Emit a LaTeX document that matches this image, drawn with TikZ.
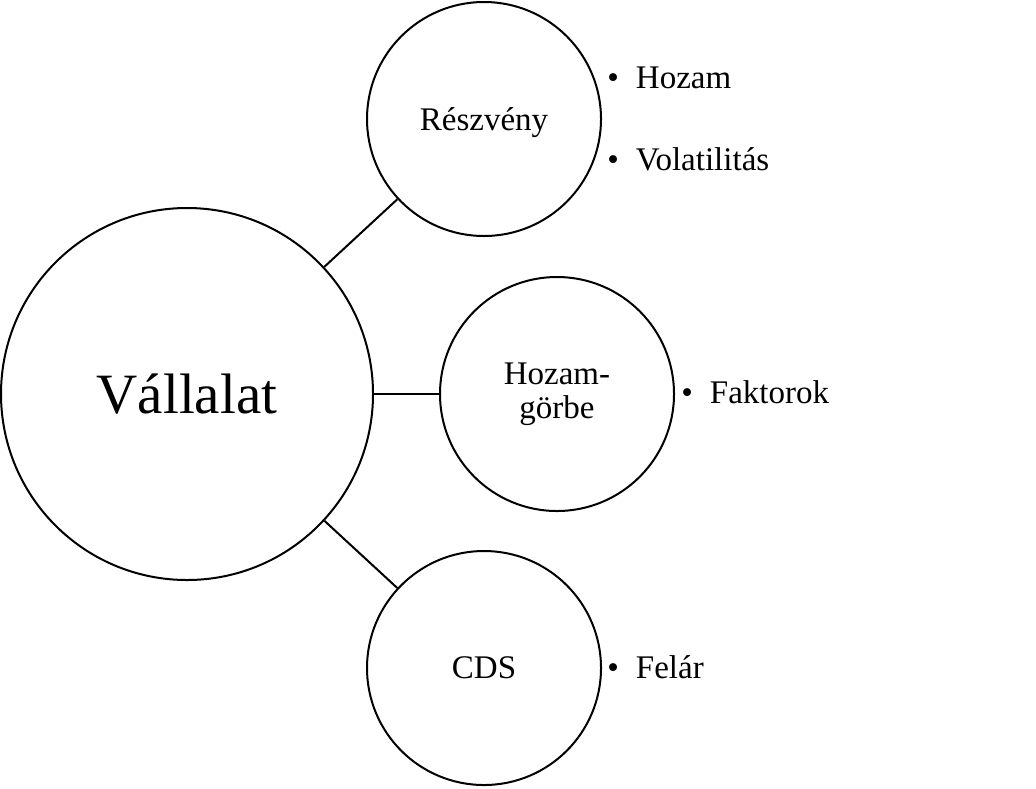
\documentclass[tikz,border=0pt]{standalone}
\usepackage{fontspec}
\setmainfont{Liberation Serif}
\tikzset{
  kor/.style={draw,circle,line width=1pt,inner sep=0pt,
    font=\fontsize{16.5}{17}\selectfont,align=center},
  nagykor/.style={kor,minimum size=186pt,font=\fontsize{28.5}{32}\selectfont},
  kiskor/.style={kor,minimum size=117pt},
  pont/.style={anchor=base west,inner sep=0pt,font=\fontsize{16.5}{17}\selectfont}
}
\begin{document}
\begin{tikzpicture}[x=0.5pt,y=-0.5pt]
\useasboundingbox (0,0) rectangle (1036,788);

\node[nagykor] (vall) at (187,394) {Vállalat};
\node[kiskor,text depth=0pt] (resz) at (484,119) {Részvény};
\node[kiskor] (gorbe) at (557,394) {Hozam-\\görbe};
\node[kiskor] (cds) at (484,668) {CDS};

\draw[line width=1pt] (vall) -- (resz);
\draw[line width=1pt] (vall) -- (gorbe);
\draw[line width=1pt] (vall) -- (cds);

\node[pont] (hozam) at (607,88) {•\hspace{8.5pt}Hozam};
\node[pont] (vola) at (607,170) {•\hspace{8.5pt}Volatilitás};
\node[pont] (fakt) at (681,403) {•\hspace{8.5pt}Faktorok};
\node[pont] (felar) at (607,678) {•\hspace{8.5pt}Felár};
\end{tikzpicture}
\end{document}
